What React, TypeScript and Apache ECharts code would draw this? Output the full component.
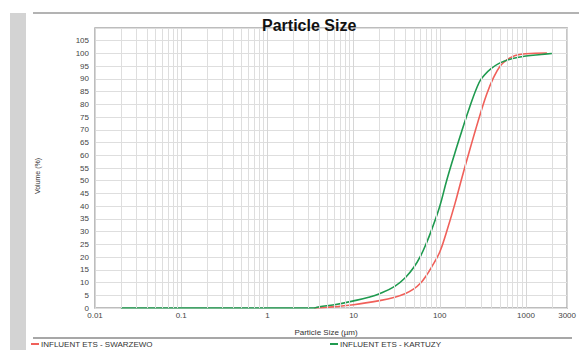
import React, { useEffect, useRef } from "react";
import * as echarts from "echarts";

const TITLE = "Particle Size";
const X_NAME = "Particle Size (µm)";
const Y_NAME = "Volume (%)";
const SERIES_NAMES = ["INFLUENT ETS - SWARZEWO", "INFLUENT ETS - KARTUZY"];

// sizes (µm) and cumulative volume (%)
const redSizes = [3.5, 5, 10, 20, 30, 40, 50, 60, 70, 80, 100, 120, 150, 180, 220, 260, 300, 350, 420, 500, 600, 750, 1000, 1750];
const redValues = [0, 0.3, 1.3, 2.9, 4.2, 5.7, 7.5, 9.8, 12.8, 16, 22, 30, 41, 51, 61.5, 70, 77, 84, 90.5, 95, 97.5, 99.2, 99.9, 100.2];

const greenSizes = [0.02, 1, 3.5, 4, 6, 10, 15, 20, 30, 40, 50, 60, 70, 80, 100, 120, 150, 180, 220, 285, 330, 400, 500, 700, 1000, 1500, 2000];
const greenValues = [0, 0, 0, 0.5, 1.3, 2.8, 4.2, 5.6, 8.5, 12, 16, 20.5, 25.5, 30.5, 40, 50, 61, 69.5, 78.5, 88.5, 91.5, 94.2, 96.3, 98, 99, 99.6, 100];

const X_MIN = 0.01;
const X_MAX = 3000;
const Y_MAX = 110;
const Y_STEP = 5;

// minor vertical grid positions (2..9 x decade)
const minorGrid: number[] = [];
for (let e = -2; e <= 3; e++) {
  for (let m = 2; m <= 9; m++) {
    const v = m * Math.pow(10, e);
    if (v > X_MIN && v < X_MAX) minorGrid.push(v);
  }
}

export default function App() {
  const ref = useRef<HTMLDivElement>(null);
  useEffect(() => {
    document.body.style.margin = "0";
    const chart = echarts.init(ref.current!, undefined, { renderer: "svg" });
    const font = "Liberation Sans";
    chart.setOption({
      animation: false,
      backgroundColor: "#fff",
      title: {
        text: TITLE,
        left: 257,
        top: 12,
        textStyle: { fontFamily: font, fontSize: 16, fontWeight: "bold", color: "#111" },
      },
      grid: {
        left: 95,
        top: 28,
        right: 11,
        bottom: 42,
        show: true,
        borderColor: "#a8a8a8",
        borderWidth: 1.5,
      },
      legend: [
        {
          data: [SERIES_NAMES[0]],
          left: 31,
          top: 340,
          itemWidth: 8,
          itemHeight: 2,
          itemGap: 0,
          icon: "rect",
          padding: 0,
          textStyle: { fontFamily: font, fontSize: 8, color: "#333", padding: [0, 0, 0, -3] },
        },
        {
          data: [SERIES_NAMES[1]],
          left: 330,
          top: 340,
          itemWidth: 8,
          itemHeight: 2,
          icon: "rect",
          padding: 0,
          textStyle: { fontFamily: font, fontSize: 8, color: "#333", padding: [0, 0, 0, -3] },
        },
      ],
      xAxis: {
        type: "log",
        logBase: 10,
        min: X_MIN,
        max: X_MAX,
        name: X_NAME,
        nameLocation: "middle",
        nameGap: 20,
        nameTextStyle: { fontFamily: font, fontSize: 8, color: "#333", padding: [0, 0, 0, -10] },
        axisLine: { show: false },
        axisTick: { show: false },
        axisLabel: {
          fontFamily: font,
          fontSize: 8,
          color: "#444",
          margin: 3,
          showMaxLabel: true,
          formatter: (v: number) => String(Number(v.toPrecision(6))),
        },
        splitLine: { show: true, lineStyle: { color: "#d6d6d6", width: 1 } },
      },
      yAxis: {
        type: "value",
        min: 0,
        max: Y_MAX,
        interval: Y_STEP,
        name: Y_NAME,
        nameLocation: "middle",
        nameGap: 54,
        nameTextStyle: { fontFamily: font, fontSize: 7, color: "#333", padding: [0, 0, 0, -16] },
        axisLine: { show: false },
        axisTick: { show: false },
        axisLabel: {
          fontFamily: font,
          fontSize: 8,
          color: "#444",
          margin: 6,
          formatter: (v: number) => (v >= Y_MAX ? "" : String(v)),
        },
        splitLine: { show: true, lineStyle: { color: "#dedede", width: 1 } },
      },
      graphic: [
        { type: "rect", shape: { x: 10, y: 13, width: 16, height: 337 }, style: { fill: "#d3d3d3" }, silent: true },
        { type: "line", shape: { x1: 33, y1: 13, x2: 579, y2: 13 }, style: { stroke: "#9a9a9a", lineWidth: 1.5 }, silent: true },
        { type: "line", shape: { x1: 33, y1: 338, x2: 572, y2: 338 }, style: { stroke: "#8a8a8a", lineWidth: 1.5 }, silent: true },
      ],
      series: [
        {
          name: "grid-minor",
          type: "line",
          data: [],
          silent: true,
          z: 1,
          markLine: {
            silent: true,
            symbol: "none",
            label: { show: false },
            lineStyle: { color: "#dedede", width: 1, type: "solid" },
            data: minorGrid.map((v) => ({ xAxis: v })),
          },
        },
        {
          name: SERIES_NAMES[0],
          type: "line",
          data: redSizes.map((s, i) => [s, redValues[i]]),
          smooth: 0.4,
          showSymbol: false,
          z: 3,
          lineStyle: { color: "#f0605a", width: 1.6 },
          itemStyle: { color: "#f0605a" },
        },
        {
          name: SERIES_NAMES[1],
          type: "line",
          data: greenSizes.map((s, i) => [s, greenValues[i]]),
          smooth: 0.4,
          showSymbol: false,
          z: 4,
          lineStyle: { color: "#1f9a4f", width: 1.6 },
          itemStyle: { color: "#1f9a4f" },
        },
      ],
    });
    return () => chart.dispose();
  }, []);
  return <div ref={ref} style={{ width: 579, height: 350 }} />;
}
